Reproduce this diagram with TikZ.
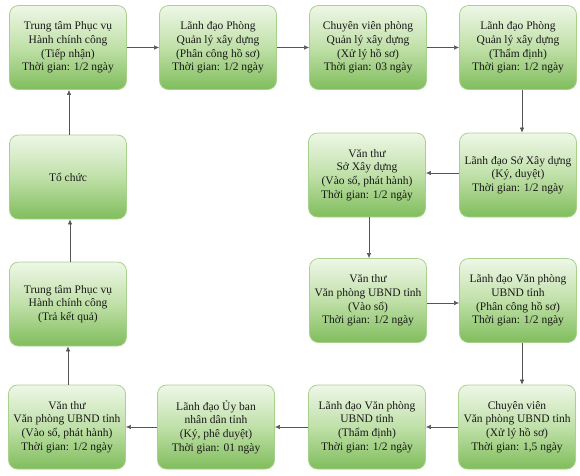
\documentclass[tikz,border=0pt]{standalone}
\usepackage{fontspec}
\setmainfont{Liberation Serif}
\usetikzlibrary{arrows.meta}
\definecolor{gtop}{HTML}{EEF7E7}
\definecolor{gmid}{HTML}{C0E0A8}
\definecolor{gbot}{HTML}{80BD5C}
\definecolor{gbord}{HTML}{A9D18E}
\definecolor{arr}{HTML}{555555}
\tikzset{
  box/.style={draw=gbord, line width=0.8pt, rounded corners=9pt,
    top color=gtop, bottom color=gbot, middle color=gmid,
    minimum width=117pt, minimum height=84pt, inner sep=2pt,
    align=center, font=\fontsize{11.5}{13.6}\selectfont, text=black!90},
  conn/.style={draw=arr, line width=0.6pt, -{Latex[length=5pt,width=4.5pt]}}
}
\begin{document}
\begin{tikzpicture}[x=1pt,y=-1pt]
\useasboundingbox (0,0) rectangle (580,475);
% row 1
\node[box] (a1) at (68,47.5) {Trung tâm Phục vụ\\Hành chính công\\(Tiếp nhận)\\Thời gian: 1/2 ngày};
\node[box] (a2) at (218,47.5) {Lãnh đạo Phòng\\Quản lý xây dựng\\(Phân công hồ sơ)\\Thời gian: 1/2 ngày};
\node[box] (a3) at (368,47.5) {Chuyên viên phòng\\Quản lý xây dựng\\(Xử lý hồ sơ)\\Thời gian: 03 ngày};
\node[box] (a4) at (518,47.5) {Lãnh đạo Phòng\\Quản lý xây dựng\\(Thẩm định)\\Thời gian: 1/2 ngày};
% row 2
\node[box] (b1) at (68,177) {Tổ chức};
\node[box] (b3) at (367,175) {Văn thư\\Sở Xây dựng\\(Vào sổ, phát hành)\\Thời gian: 1/2 ngày};
\node[box] (b4) at (518,175) {Lãnh đạo Sở Xây dựng\\(Ký, duyệt)\\Thời gian: 1/2 ngày};
% row 3
\node[box] (c1) at (68,304) {Trung tâm Phục vụ\\Hành chính công\\(Trả kết quả)};
\node[box] (c3) at (368,300.5) {Văn thư\\Văn phòng UBND tỉnh\\(Vào sổ)\\Thời gian: 1/2 ngày};
\node[box] (c4) at (518,300.5) {Lãnh đạo Văn phòng\\UBND tỉnh\\(Phân công hồ sơ)\\Thời gian: 1/2 ngày};
% row 4
\node[box] (d1) at (67,427) {Văn thư\\Văn phòng UBND tỉnh\\(Vào sổ, phát hành)\\Thời gian: 1/2 ngày};
\node[box] (d2) at (216,427) {Lãnh đạo Ủy ban\\nhân dân tỉnh\\(Ký, phê duyệt)\\Thời gian: 01 ngày};
\node[box] (d3) at (367,427) {Lãnh đạo Văn phòng\\UBND tỉnh\\(Thẩm định)\\Thời gian: 1/2 ngày};
\node[box] (d4) at (517,427) {Chuyên viên\\Văn phòng UBND tỉnh\\(Xử lý hồ sơ)\\Thời gian: 1,5 ngày};
% connectors
\draw[conn] (a1) -- (a2);
\draw[conn] (a2) -- (a3);
\draw[conn] (a3) -- (a4);
\draw[conn] (a4.south -| 522,0) -- (b4.north -| 522,0);
\draw[conn] (b4.west |- 0,173) -- (b3.east |- 0,173);
\draw[conn] (b3.south -| 369,0) -- (c3.north -| 369,0);
\draw[conn] (c3.east |- 0,303) -- (c4.west |- 0,303);
\draw[conn] (c4.south -| 522,0) -- (d4.north -| 522,0);
\draw[conn] (d4) -- (d3);
\draw[conn] (d3) -- (d2);
\draw[conn] (d2) -- (d1);
\draw[conn] (d1.north -| 68,0) -- (c1.south -| 68,0);
\draw[conn] (c1.north -| 70,0) -- (b1.south -| 70,0);
\draw[conn] (b1.north -| 69,0) -- (a1.south -| 69,0);
\end{tikzpicture}
\end{document}
